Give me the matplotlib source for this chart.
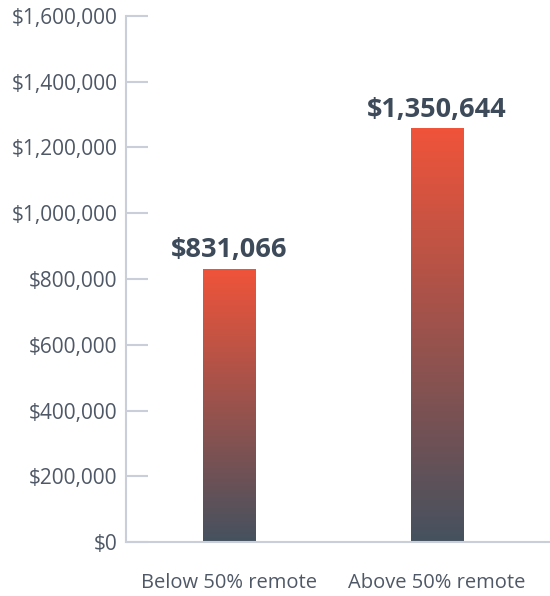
import matplotlib
matplotlib.use("Agg")
import matplotlib.pyplot as plt
import numpy as np
from matplotlib.colors import LinearSegmentedColormap
from matplotlib.ticker import FuncFormatter

categories = ["Below 50% remote", "Above 50% remote"]
values = [831066, 1258000]
value_labels = ["$831,066", "$1,350,644"]
yticks = [0, 200000, 400000, 600000, 800000, 1000000, 1200000, 1400000, 1600000]

plt.rcParams['font.family'] = ['Open Sans', 'DejaVu Sans']

fig = plt.figure(figsize=(5.5, 5.96), dpi=100)
W, H = 550, 596
ax = fig.add_axes([126 / W, 54 / H, (550 - 126) / W, (542 - 16) / H])

cmap = LinearSegmentedColormap.from_list("g", ["#45515f", "#f0543a"])
x = np.arange(len(categories))
width = 0.25
bars = ax.bar(x, values, width=width, color="none", edgecolor="none")
grad = np.linspace(0, 1, 256).reshape(-1, 1)
for b in bars:
    x0, y0 = b.get_x(), b.get_y()
    w, h = b.get_width(), b.get_height()
    im = ax.imshow(grad, extent=[x0, x0 + w, y0, y0 + h], origin="lower",
                   cmap=cmap, aspect="auto", zorder=2)
    im.set_clip_path(b)

for xi, v, lab in zip(x, values, value_labels):
    ax.annotate(lab, (xi, v), xytext=(0, 4), textcoords="offset points",
                ha="center", va="bottom", fontsize=19.5, fontweight="bold",
                color="#3d4a5a")

ax.set_xlim(-0.495, 1.543)
ax.set_ylim(0, 1600000)
ax.set_yticks(yticks)
ax.yaxis.set_major_formatter(FuncFormatter(lambda v, p: f"${v:,.0f}"))
ax.set_xticks(x)
ax.set_xticklabels(categories)

for s in ["top", "right"]:
    ax.spines[s].set_visible(False)
for s in ["left", "bottom"]:
    ax.spines[s].set_color("#c9ced9")
    ax.spines[s].set_linewidth(1.5)

ax.tick_params(axis="y", direction="in", length=16, width=1.5, color="#c9ced9",
               labelsize=15, labelcolor="#4f5866", pad=6)
ax.tick_params(axis="x", length=0, labelsize=14.5, labelcolor="#4f5866", pad=22)

fig.savefig("out.png", dpi=100)
